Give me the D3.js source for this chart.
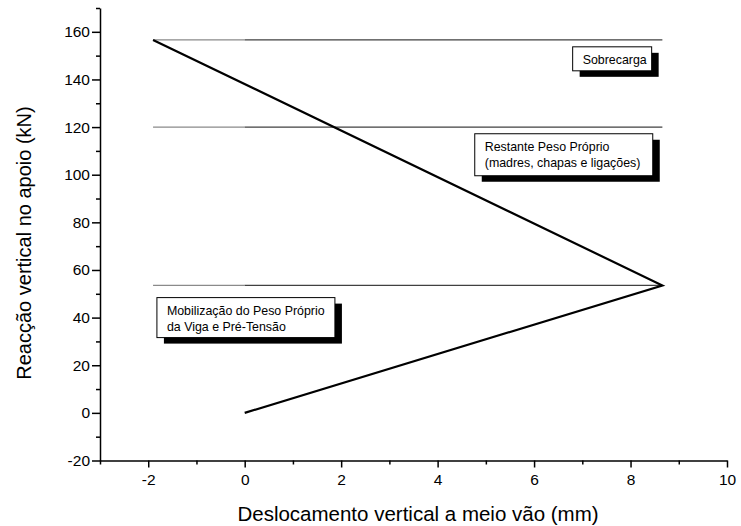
<!DOCTYPE html>
<html>
<head>
<meta charset="utf-8">
<script src="https://cdn.jsdelivr.net/npm/d3@7"></script>
<style>
  html, body { margin: 0; padding: 0; background: #fff; }
  svg { display: block; font-family: Arial, "Liberation Sans", sans-serif; }
</style>
</head>
<body>
<svg id="chart" width="741" height="526"></svg>
<script>
// ---- data ----
const pathX = [0, 8.66, -1.9];          // deslocamento (mm)
const pathY = [0, 53.5, 156.6];          // reacção (kN)
const levelY = [156.6, 120, 53.5];       // horizontal load levels
const levelX0 = -1.9, levelXmid = 0, levelX1 = 8.66;
const xTicks = [-2, 0, 2, 4, 6, 8, 10];
const yTicks = [-20, 0, 20, 40, 60, 80, 100, 120, 140, 160];
const noteLines = [["Sobrecarga"], ["Restante Peso Próprio", "(madres, chapas e ligações)"], ["Mobilização do Peso Próprio", "da Viga e Pré-Tensão"]];
const noteX = [6.80, 4.77, -1.82];
const noteY = [153.7, 117.2, 48.4];
const noteW = [79, 178, 178];
const noteH = [24, 42, 40];
const xTitle = "Deslocamento vertical a meio vão (mm)";
const yTitle = "Reacção vertical no apoio (kN)";

// ---- layout ----
const svg = d3.select("#chart");
const x = d3.scaleLinear().domain([-3, 10]).range([100, 727]);
const y = d3.scaleLinear().domain([-20, 170]).range([460.5, 8]);
const fmt = v => String(v);  // plain hyphen minus, like the original

// horizontal levels (light part left of 0, darker part right)
levelY.forEach(v => {
  svg.append("line").attr("x1", x(levelX0)).attr("x2", x(levelXmid))
    .attr("y1", y(v)).attr("y2", y(v)).attr("stroke", "#8a8a8a").attr("stroke-width", 1.2);
  svg.append("line").attr("x1", x(levelXmid)).attr("x2", x(levelX1))
    .attr("y1", y(v)).attr("y2", y(v)).attr("stroke", "#404040").attr("stroke-width", 1.2);
});

// main path
const pts = pathX.map((d, i) => [d, pathY[i]]);
svg.append("path")
  .attr("d", d3.line().x(d => x(d[0])).y(d => y(d[1]))(pts))
  .attr("fill", "none").attr("stroke", "#000").attr("stroke-width", 2.2)
  .attr("stroke-linejoin", "miter");

// annotation boxes
noteLines.forEach((lines, i) => {
  const bx = x(noteX[i]), by = y(noteY[i]);
  const g = svg.append("g");
  g.append("rect").attr("x", bx + 7).attr("y", by + 6).attr("width", noteW[i]).attr("height", noteH[i]).attr("fill", "#000");
  g.append("rect").attr("x", bx).attr("y", by).attr("width", noteW[i]).attr("height", noteH[i])
    .attr("fill", "#fff").attr("stroke", "#000").attr("stroke-width", 1);
  lines.forEach((t, j) => {
    g.append("text").attr("x", bx + 10).attr("y", by + 17 + j * 16)
      .attr("font-size", "12.4px").attr("fill", "#000").text(t);
  });
});

// axes
const xAxis = svg.append("g").attr("transform", `translate(0,${y(-20)})`)
  .call(d3.axisBottom(x).tickValues(xTicks).tickFormat(fmt).tickSize(7).tickSizeOuter(0));
svg.append("g").attr("transform", `translate(0,${y(-20)})`)
  .call(d3.axisBottom(x).tickValues(d3.range(-3, 10.5, 1).filter(v => v % 2 !== 0)).tickFormat("").tickSize(4).tickSizeOuter(0))
  .select(".domain").remove();
const yAxis = svg.append("g").attr("transform", `translate(${x(-3)},0)`)
  .call(d3.axisLeft(y).tickValues(yTicks).tickFormat(fmt).tickSize(8).tickSizeOuter(0));
svg.append("g").attr("transform", `translate(${x(-3)},0)`)
  .call(d3.axisLeft(y).tickValues(d3.range(-10, 171, 20)).tickFormat("").tickSize(4).tickSizeOuter(0))
  .select(".domain").remove();

svg.selectAll(".domain").attr("stroke", "#000").attr("stroke-width", 1.5);
svg.selectAll(".tick line").attr("stroke", "#000").attr("stroke-width", 1.5);
xAxis.selectAll("text").attr("font-size", "15.5px").attr("font-family", "Arial, 'Liberation Sans', sans-serif").attr("fill", "#000").attr("y", 13).attr("dy", "0.71em");
yAxis.selectAll("text").attr("font-size", "15.5px").attr("font-family", "Arial, 'Liberation Sans', sans-serif").attr("fill", "#000").attr("x", -10);

// titles
svg.append("text").attr("x", 418).attr("y", 521).attr("text-anchor", "middle")
  .attr("font-size", "20.5px").attr("fill", "#000").text(xTitle);
svg.append("text").attr("transform", `translate(31,243) rotate(-90)`).attr("text-anchor", "middle")
  .attr("font-size", "20px").attr("fill", "#000").text(yTitle);
</script>
</body>
</html>
